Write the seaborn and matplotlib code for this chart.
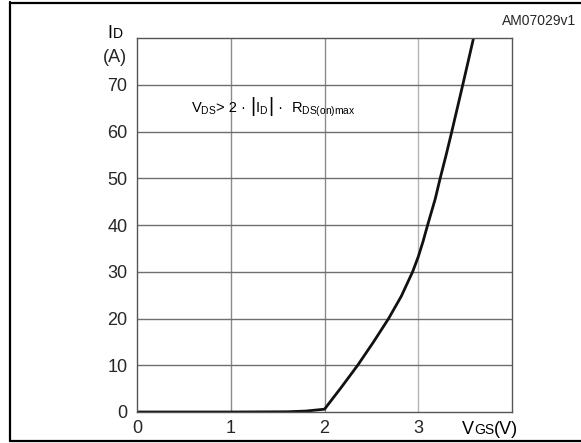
import matplotlib
matplotlib.use("Agg")
import matplotlib.pyplot as plt
import seaborn as sns
import pandas as pd
from matplotlib.lines import Line2D
from matplotlib.offsetbox import TextArea, HPacker, AnnotationBbox

# Data
vgs = [0.0, 1.0, 1.6, 1.8, 2.0, 2.18, 2.354, 2.52, 2.684, 2.82, 2.94, 3.0, 3.05, 3.10, 3.18, 3.234, 3.30, 3.358, 3.475, 3.59]
id_a = [0.0, 0.0, 0.05, 0.2, 0.6, 5.3, 10.0, 14.9, 20.0, 24.8, 30.0, 33.2, 36.4, 40.0, 45.5, 50.0, 55.2, 60.0, 70.0, 80.0]
x_ticks = [0, 1, 2, 3]
y_ticks = [0, 10, 20, 30, 40, 50, 60, 70]

sns.set_style("white")
plt.rcParams['font.family'] = ['Liberation Sans', 'DejaVu Sans']
plt.rcParams['mathtext.fontset'] = 'custom'
plt.rcParams['mathtext.rm'] = 'Liberation Sans'
plt.rcParams['mathtext.it'] = 'Liberation Sans'
plt.rcParams['mathtext.sf'] = 'Liberation Sans'

fig = plt.figure(figsize=(5.81, 4.43), dpi=100)
ax = fig.add_axes([137/581, 1-412/443, 375/581, 374/443])

df = pd.DataFrame({"VGS": vgs, "ID": id_a})
sns.lineplot(data=df, x="VGS", y="ID", sort=False, estimator=None, ax=ax,
             color="#111111", linewidth=2.0)

ax.set_xlim(0, 4)
ax.set_ylim(0, 80)
ax.set_xticks(x_ticks)
ax.set_yticks(y_ticks)
ax.set_xticklabels([str(v) for v in x_ticks], fontsize=13)
ax.set_yticklabels([str(v) for v in y_ticks], fontsize=13)
ax.tick_params(axis='both', length=0)
ax.tick_params(axis='y', pad=7)
ax.tick_params(axis='x', pad=6)
ax.set_xlabel("")
ax.set_ylabel("")

for v in [1, 2, 3]:
    ax.axvline(v, color="#8a8a8a" if v != 3 else "#b5b5b5", linewidth=1.0, zorder=0)
for v in [10, 20, 30, 40, 50, 60, 70]:
    ax.axhline(v, color="#6e6e6e", linewidth=1.0, zorder=0)
for s in ax.spines.values():
    s.set_color("#555555")
    s.set_linewidth(1.0)

# annotation with tall absolute-value bars
ann_parts = [
    (r'$\mathregular{V_{DS}}$', 10.5),
    ('> 2 · ', 10.5),
    ('|', 14.5),
    (r'$\mathregular{I_D}$', 10.5),
    ('|', 14.5),
    (' ·  ', 10.5),
    (r'$\mathregular{R_{DS(on)max}}$', 10.5),
]
ann_areas = [TextArea(t, textprops=dict(fontsize=fs, color='black')) for t, fs in ann_parts]
ann_pack = HPacker(children=ann_areas, align="baseline", pad=0, sep=0)
fig.add_artist(AnnotationBbox(ann_pack, (1.45, 65.0), xycoords=ax.transData, frameon=False,
                              box_alignment=(0.5, 0.5), pad=0))

def mixed_label(parts, xy, box_align):
    areas = [TextArea(t, textprops=dict(fontsize=fs, color='black')) for t, fs in parts]
    pack = HPacker(children=areas, align="baseline", pad=0, sep=0)
    ab = AnnotationBbox(pack, xy, xycoords='figure pixels', frameon=False,
                        box_alignment=box_align, pad=0)
    fig.add_artist(ab)

# y-axis label "ID (A)"
mixed_label([("I", 13), ("D", 10)], (115, 443-33), (0.5, 0.5))
fig.text(115/581, 1-58/443, "(A)", fontsize=13, ha='center', va='center')
# x-axis label "VGS(V)"
mixed_label([("V", 13), ("GS", 10), ("(V)", 13)], (490, 443-429), (0.5, 0.5))

fig.text(576/581, 1-21/443, "AM07029v1", fontsize=10, ha='right', va='center')

# outer frame
fig.add_artist(Line2D([10/581, 10/581], [1-2/443, 1-441/443], transform=fig.transFigure,
                      color='black', linewidth=1.6))
fig.add_artist(Line2D([10/581, 1.0], [1-3/443, 1-3/443], transform=fig.transFigure,
                      color='black', linewidth=1.6))
fig.add_artist(Line2D([10/581, 1.0], [1-441/443, 1-441/443], transform=fig.transFigure,
                      color='black', linewidth=1.6))

fig.savefig("out.png", dpi=100)
